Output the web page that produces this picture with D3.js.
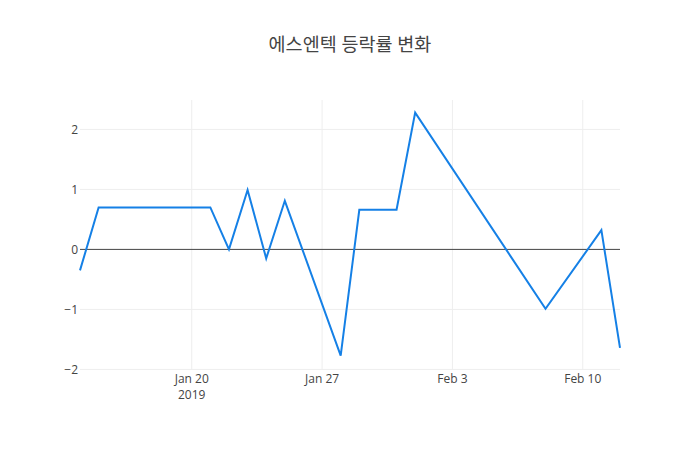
<!DOCTYPE html>
<html>
<head>
<meta charset="utf-8">
<script src="https://cdn.jsdelivr.net/npm/d3@7"></script>
<style>
  body { margin: 0; background: #fff; }
  text { font-family: "Open Sans", "Noto Sans CJK KR", sans-serif; fill: #444; }
</style>
</head>
<body>
<script>
// 에스엔텍 daily change (%)
var dates = ["2019-01-14", "2019-01-15", "2019-01-21", "2019-01-22", "2019-01-23",
             "2019-01-24", "2019-01-25", "2019-01-28", "2019-01-29", "2019-01-31",
             "2019-02-01", "2019-02-08", "2019-02-11", "2019-02-12"];
var changes = [-0.35, 0.70, 0.70, 0.00, 0.99, -0.15, 0.81, -1.77, 0.66, 0.66,
               2.28, -0.99, 0.32, -1.64];
var yTicks = [-2, -1, 0, 1, 2];
var xTicks = ["2019-01-20", "2019-01-27", "2019-02-03", "2019-02-10"];
var title = "에스엔텍 등락률 변화";

var width = 700, height = 450,
    margin = {top: 100, right: 80, bottom: 80, left: 80};

var parse = d3.timeParse("%Y-%m-%d");
var data = dates.map(function(d, i){ return {date: parse(d), value: changes[i]}; });

var svg = d3.select("body").append("svg")
    .attr("width", width)
    .attr("height", height);

var x = d3.scaleTime()
    .domain(d3.extent(data, function(d){ return d.date; }))
    .range([margin.left, width - margin.right]);

var y = d3.scaleLinear()
    .domain([-2.01, 2.49])
    .range([height - margin.bottom, margin.top]);

// grid lines
svg.append("g").selectAll("line.vgrid")
    .data(xTicks.map(parse))
    .enter().append("line")
    .attr("x1", function(d){ return x(d); })
    .attr("x2", function(d){ return x(d); })
    .attr("y1", margin.top)
    .attr("y2", height - margin.bottom)
    .attr("stroke", "#eee");

svg.append("g").selectAll("line.hgrid")
    .data(yTicks.filter(function(t){ return t !== 0; }))
    .enter().append("line")
    .attr("x1", margin.left)
    .attr("x2", width - margin.right)
    .attr("y1", function(d){ return y(d); })
    .attr("y2", function(d){ return y(d); })
    .attr("stroke", "#eee");

// zero line
svg.append("line")
    .attr("x1", margin.left)
    .attr("x2", width - margin.right)
    .attr("y1", y(0))
    .attr("y2", y(0))
    .attr("stroke", "#444")
    .attr("stroke-width", 1);

// the series
var line = d3.line()
    .x(function(d){ return x(d.date); })
    .y(function(d){ return y(d.value); });

svg.append("path")
    .datum(data)
    .attr("d", line)
    .attr("fill", "none")
    .attr("stroke", "#1580e6")
    .attr("stroke-width", 2)
    .attr("stroke-linejoin", "miter");

// y tick labels
svg.append("g").selectAll("text")
    .data(yTicks)
    .enter().append("text")
    .attr("x", margin.left - 2)
    .attr("y", function(d){ return y(d); })
    .attr("dy", "0.35em")
    .attr("text-anchor", "end")
    .style("font-size", "12px")
    .text(function(d){ return d < 0 ? "\u2212" + Math.abs(d) : d; });

// x tick labels
var fmt = d3.timeFormat("%b %-d");
svg.append("g").selectAll("text")
    .data(xTicks.map(parse))
    .enter().append("text")
    .attr("x", function(d){ return x(d); })
    .attr("y", height - margin.bottom + 9)
    .attr("dy", "0.35em")
    .attr("text-anchor", "middle")
    .style("font-size", "12px")
    .text(function(d){ return fmt(d); });

svg.append("text")
    .attr("x", x(parse(xTicks[0])))
    .attr("y", height - margin.bottom + 25)
    .attr("dy", "0.35em")
    .attr("text-anchor", "middle")
    .style("font-size", "12px")
    .text("2019");

// title
svg.append("text")
    .attr("x", width / 2)
    .attr("y", 51)
    .attr("text-anchor", "middle")
    .style("font-size", "18.5px")
    .text(title);
</script>
</body>
</html>
